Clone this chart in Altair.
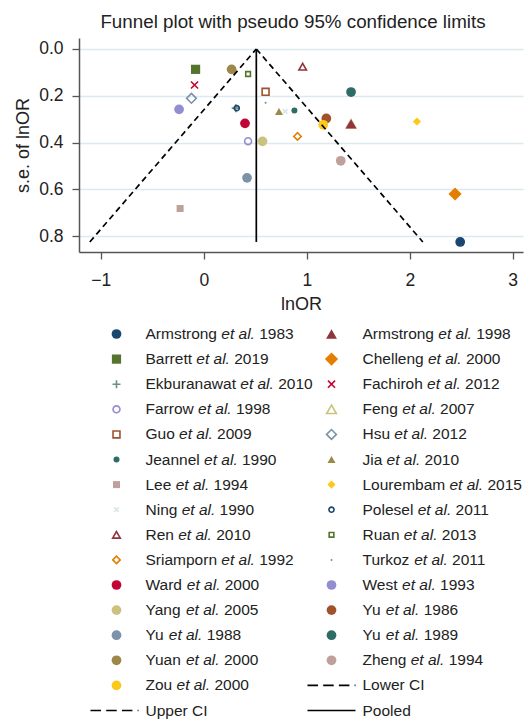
import altair as alt
import pandas as pd

# ---- study estimates: log odds ratio and its standard error ----
authors = ["Armstrong", "Armstrong", "Barrett", "Chelleng", "Ekburanawat", "Fachiroh",
           "Farrow", "Feng", "Guo", "Hsu", "Jeannel", "Jia", "Lee", "Lourembam", "Ning",
           "Polesel", "Ren", "Ruan", "Sriamporn", "Turkoz", "Ward", "West", "Yang",
           "Yu", "Yu", "Yu", "Yuan", "Zheng", "Zou"]
years = [1983, 1998, 2019, 2000, 2010, 2012, 1998, 2007, 2009, 2012, 1990, 2010, 1994,
         2015, 1990, 2011, 2010, 2013, 1992, 2011, 2000, 1993, 2005, 1986, 1988, 1989,
         2000, 1994, 2000]
ln_or = [2.49, 1.43, -0.08, 2.44, 0.31, -0.09, 0.43, 1.43, 0.60, -0.12, 0.88, 0.73, -0.23,
         2.07, 0.79, 0.32, 0.96, 0.43, 0.91, 0.60, 0.40, -0.24, 0.57, 1.19, 0.42, 1.43,
         0.27, 1.33, 1.16]
se_ln_or = [0.825, 0.320, 0.087, 0.620, 0.253, 0.154, 0.394, 0.320, 0.183, 0.211, 0.263,
            0.267, 0.682, 0.310, 0.267, 0.253, 0.076, 0.107, 0.374, 0.230, 0.318, 0.258,
            0.395, 0.297, 0.551, 0.184, 0.087, 0.478, 0.324]
pooled_ln_or = 0.51

x_ticks = [-1, 0, 1, 2, 3]
y_ticks = [0.0, 0.2, 0.4, 0.6, 0.8]

# ---- marker styles (colour cycle and symbol cycle) ----
FONT = "Liberation Sans"
palette = ["#1a476f", "#90353b", "#55752f", "#e37e00", "#6e8e84", "#c10534", "#938dd2",
           "#cac27e", "#a0522d", "#7b92a8", "#2d6d66", "#9c8847", "#bfa19c", "#fcc81a",
           "#d9e6eb"]
PLUS = "M-1,0L1,0M0,-1L0,1"
CROSS = "M-1,-1L1,1M-1,1L1,-1"
symbol_cycle = [
    ("circle", 95, True), ("triangle-up", 118, True), ("square", 85, True),
    ("diamond", 175, True), (PLUS, 64, False), (CROSS, 50, False),
    ("circle", 48, False), ("triangle-up", 95, False), ("square", 48, False),
    ("diamond", 95, False), ("circle", 36, True), ("triangle-up", 64, True),
    ("square", 49, True), ("diamond", 66, True), (CROSS, 22, False),
    ("circle", 26, False), ("triangle-up", 58, False), ("square", 22, False),
    ("diamond", 55, False), ("circle", 4, True),
]

n = len(authors)
styles = [symbol_cycle[i] if i < len(symbol_cycle) else ("circle", 95, True) for i in range(n)]
colors = [palette[i % len(palette)] for i in range(n)]

studies = pd.DataFrame({
    "author": authors,
    "year": years,
    "lnOR": ln_or,
    "se": se_ln_or,
    "color": colors,
    "shape": [s[0] for s in styles],
    "size": [s[1] for s in styles],
    "filled": [s[2] for s in styles],
})

# pseudo 95% confidence limits around the pooled estimate
se_max = max(se_ln_or)
ci = pd.DataFrame({
    "se": [0.0, se_max, 0.0, se_max],
    "lnOR": [pooled_ln_or, pooled_ln_or - 1.96 * se_max,
             pooled_ln_or, pooled_ln_or + 1.96 * se_max],
    "line": ["lower", "lower", "upper", "upper"],
})
pooled = pd.DataFrame({"se": [0.0, se_max], "lnOR": [pooled_ln_or, pooled_ln_or]})

x_scale = alt.Scale(domain=[-1.212, 3.10], nice=False, zero=False)
y_scale = alt.Scale(domain=[-0.047, 0.868], nice=False, zero=False, reverse=True)
x_axis = alt.Axis(values=x_ticks, grid=False, title="lnOR", labelPadding=12, titlePadding=7)
y_axis = alt.Axis(values=y_ticks, format=".1f", grid=True, title="s.e. of lnOR",
                  labelPadding=9, titlePadding=6)

X = alt.X("lnOR:Q", scale=x_scale, axis=x_axis)
Y = alt.Y("se:Q", scale=y_scale, axis=y_axis)

hollow_pts = alt.Chart(studies).transform_filter("!datum.filled").mark_point(
    filled=False, opacity=1, strokeWidth=1.6
).encode(
    x=X, y=Y,
    color=alt.Color("color:N", scale=None),
    shape=alt.Shape("shape:N", scale=None),
    size=alt.Size("size:Q", scale=None),
)
filled_pts = alt.Chart(studies).transform_filter("datum.filled").mark_point(
    filled=True, opacity=1
).encode(
    x=X, y=Y,
    color=alt.Color("color:N", scale=None),
    shape=alt.Shape("shape:N", scale=None),
    size=alt.Size("size:Q", scale=None),
)
ci_lines = alt.Chart(ci).mark_line(color="black", strokeWidth=1.7, strokeDash=[6, 4]).encode(
    x=X, y=Y, detail="line:N"
)
pooled_line = alt.Chart(pooled).mark_line(color="black", strokeWidth=1.7).encode(x=X, y=Y)

funnel = alt.layer(hollow_pts, filled_pts, ci_lines, pooled_line).properties(
    width=444, height=214,
    title=alt.TitleParams("Funnel plot with pseudo 95% confidence limits", font=FONT,
                          fontSize=18.8, fontWeight="normal", color="#222",
                          anchor="middle", frame="group", dx=-8, offset=6),
)

# ---- key: two columns, filled row by row ----
HELV = dict(zip("ABCDEFGHIJKLMNOPQRSTUVWXYZ",
                [667, 667, 722, 722, 667, 611, 778, 722, 278, 500, 667, 556, 833, 722,
                 778, 667, 778, 722, 667, 611, 722, 667, 944, 667, 667, 611]))
HELV.update(zip("abcdefghijklmnopqrstuvwxyz",
                [556, 556, 500, 556, 556, 278, 556, 556, 222, 222, 500, 222, 833, 556,
                 556, 556, 556, 333, 500, 278, 556, 500, 722, 500, 500, 500]))
HELV.update({" ": 278, ".": 278})
LEG_FS = 15.5


def text_width(s):
    return sum(HELV.get(c, 556) for c in s) * LEG_FS / 1000


sym_x = [37.5, 252.5]
txt_x = [66.5, 283.5]

key_rows = []
for i in range(n):
    col = i % 2
    tx = txt_x[col]
    etal_x = tx + text_width(authors[i] + " ")
    year_x = etal_x + text_width("et al. ")
    key_rows.append({
        "row": i // 2, "sx": sym_x[col], "tx": tx, "ex": etal_x, "yx": year_x,
        "author": authors[i], "etal": "et al.", "year": str(years[i]),
        "color": colors[i], "shape": styles[i][0],
        "size": styles[i][1], "filled": styles[i][2],
    })
key = pd.DataFrame(key_rows)

line_items = ["Lower CI", "Upper CI", "Pooled"]
line_rows = []
for j, lab in enumerate(line_items):
    i = n + j
    col = i % 2
    line_rows.append({"row": i // 2, "tx": txt_x[col], "x1": txt_x[col] - 55,
                      "x2": txt_x[col] - 7, "label": lab,
                      "dashed": lab != "Pooled"})
key_lines = pd.DataFrame(line_rows)

KX = alt.Scale(domain=[0, 444], range=[0, 444], nice=False, zero=False)
KY = alt.Scale(domain=[0, 15], range=[16, 392.5], nice=False, zero=False)
ky = alt.Y("row:Q", scale=KY, axis=None)

key_hollow = alt.Chart(key).transform_filter("!datum.filled").mark_point(
    filled=False, opacity=1, strokeWidth=1.6
).encode(
    x=alt.X("sx:Q", scale=KX, axis=None), y=ky,
    color=alt.Color("color:N", scale=None),
    shape=alt.Shape("shape:N", scale=None),
    size=alt.Size("size:Q", scale=None),
)
key_filled = alt.Chart(key).transform_filter("datum.filled").mark_point(
    filled=True, opacity=1
).encode(
    x=alt.X("sx:Q", scale=KX, axis=None), y=ky,
    color=alt.Color("color:N", scale=None),
    shape=alt.Shape("shape:N", scale=None),
    size=alt.Size("size:Q", scale=None),
)
txt_style = dict(align="left", baseline="middle", font=FONT, fontSize=LEG_FS, color="#222")
key_author = alt.Chart(key).mark_text(**txt_style).encode(
    x=alt.X("tx:Q", scale=KX, axis=None), y=ky, text="author:N")
key_etal = alt.Chart(key).mark_text(fontStyle="italic", **txt_style).encode(
    x=alt.X("ex:Q", scale=KX, axis=None), y=ky, text="etal:N")
key_year = alt.Chart(key).mark_text(**txt_style).encode(
    x=alt.X("yx:Q", scale=KX, axis=None), y=ky, text="year:N")
key_dash = alt.Chart(key_lines).transform_filter("datum.dashed").mark_rule(
    color="black", strokeWidth=1.7, strokeDash=[10.5, 5.2]
).encode(x=alt.X("x1:Q", scale=KX, axis=None), x2="x2:Q", y=ky)
key_solid = alt.Chart(key_lines).transform_filter("!datum.dashed").mark_rule(
    color="black", strokeWidth=1.7
).encode(x=alt.X("x1:Q", scale=KX, axis=None), x2="x2:Q", y=ky)
key_line_txt = alt.Chart(key_lines).mark_text(**txt_style).encode(
    x=alt.X("tx:Q", scale=KX, axis=None), y=ky, text="label:N")

legend_panel = alt.layer(key_hollow, key_filled, key_author, key_etal, key_year,
                         key_dash, key_solid, key_line_txt).properties(width=444, height=397)

chart = alt.vconcat(funnel, legend_panel, spacing=66, bounds="flush").resolve_scale(
    x="independent", y="independent"
).properties(
    padding={"left": 14, "top": 13, "right": 5, "bottom": 4}
).configure_view(stroke=None).configure_axis(
    labelFont=FONT, titleFont=FONT, labelFontSize=17.5, titleFontSize=18,
    titleFontWeight="normal", labelColor="#222", titleColor="#222",
    domainColor="#555", domainWidth=1.5, tickColor="#555", tickWidth=1.3, tickSize=7,
    gridColor="#dde9ee", gridWidth=1.5,
)

chart.save("out.html", embed_options={"renderer": "svg", "actions": False})
